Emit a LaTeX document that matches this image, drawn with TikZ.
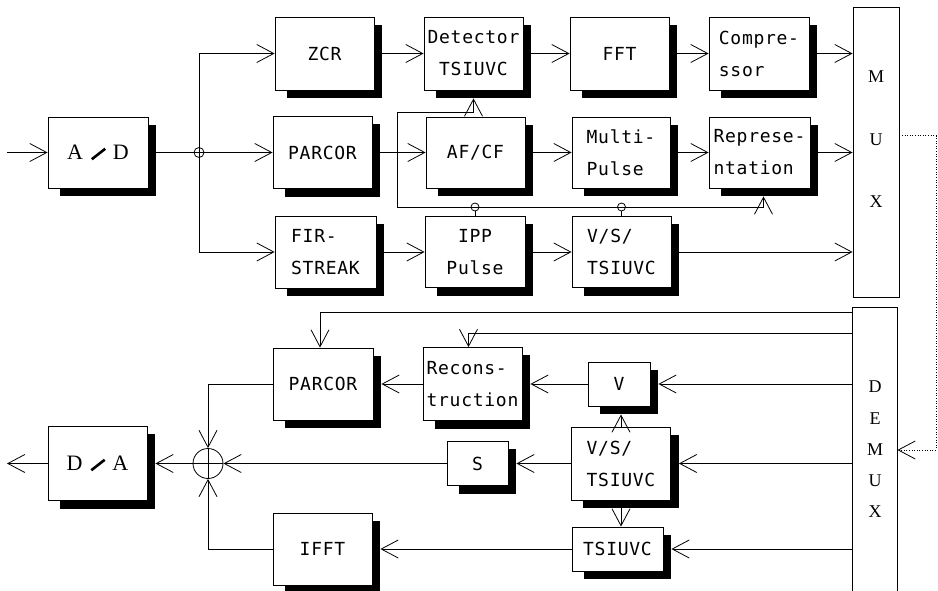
\documentclass[tikz,border=0pt]{standalone}
\usepackage{fontspec}
\usepackage{graphicx}
\setmainfont{Liberation Serif}
\newfontfamily\boxfont[LetterSpace=4]{DejaVu Sans Mono}
\usetikzlibrary{arrows.meta,calc,backgrounds}
\newcommand\bxf{\boxfont\fontsize{18}{32}\selectfont}
\newcommand\srf{\fontsize{22}{26}\selectfont}
\newcommand\slsh{\hspace{8pt}\raisebox{-1pt}{\rotatebox{38}{\rule{17pt}{2.6pt}}}\hspace{7pt}}
\begin{document}
\begin{tikzpicture}[x=1pt,y=-1pt,line width=0.8pt,
  arr/.style={-{Straight Barb[length=17pt,width=18pt]}},
  blk/.style 2 args={draw,fill=white,inner sep=0pt,minimum width=#1pt,minimum height=#2pt,font=\bxf,align=center},
  lblk/.style 2 args={blk={#1}{#2},align=left},
  jc/.style={draw,circle,inner sep=0pt,minimum size=10pt},
  dotl/.style={dash pattern=on 1pt off 1.6pt}]
\useasboundingbox (0,0) rectangle (938,591);
% ---- upper half boxes
\node[blk={100}{71},font=\srf] (AD) at (98,152.5) {A\slsh D};
\node[blk={99}{73}] (ZCR) at (324.5,53.5) {ZCR};
\node[blk={99}{73}] (Det) at (473.5,53.5) {Detector\\TSIUVC};
\node[blk={99}{73}] (FFT) at (619.5,53.5) {FFT};
\node[lblk={100}{73}] (Comp) at (759,53.5) {Compre-\\ssor};
\node[blk={46}{290}] (MUX) at (876,152) {};
\node[font=\fontsize{18}{62.5}\selectfont,align=center,inner sep=0pt] (muxt) at (876,139.5) {M\\U\\X};
\node[blk={99}{72}] (PARt) at (322.5,152.5) {PARCOR};
\node[blk={99}{71}] (AFCF) at (475.5,152.5) {AF/CF};
\node[lblk={98}{71}] (Multi) at (621,152.5) {Multi-\\Pulse};
\node[lblk={101}{71}] (Repr) at (759.5,152.5) {Represe-\\ntation};
\node[lblk={101}{72}] (FIR) at (325.5,252) {FIR-\\STREAK};
\node[blk={100}{71}] (IPP) at (475,252) {IPP\\Pulse};
\node[lblk={99}{71}] (VSa) at (621.5,252) {V/S/\\TSIUVC};
% ---- lower half boxes
\node[blk={100}{72}] (PARb) at (323,384) {PARCOR};
\node[lblk={99}{73}] (Rec) at (472.5,384) {Recons-\\truction};
\node[blk={62}{44}] (V) at (619,384) {V};
\node[blk={61}{44}] (S) at (477.5,463.5) {S};
\node[lblk={99}{73}] (VSb) at (621,463.5) {V/S/\\TSIUVC};
\node[blk={91}{44}] (TS) at (617.5,549) {TSIUVC};
\node[blk={99}{72}] (IFFT) at (322.5,549) {IFFT};
\node[blk={99}{74},font=\srf] (DA) at (97.5,463.5) {D\slsh A};
\node[draw,circle,minimum size=30pt,inner sep=0pt,
  path picture={\draw (path picture bounding box.north) -- (path picture bounding box.south)
  (path picture bounding box.west) -- (path picture bounding box.east);}] (Sum) at (208,463.5) {};
\node[minimum width=44pt,minimum height=283pt,inner sep=0pt,font=\fontsize{18}{31.3}\selectfont,align=center] (DEMUX) at (875,449.5) {D\\E\\M\\U\\X};
\draw (DEMUX.south west) -- (DEMUX.north west) -- (DEMUX.north east) -- (DEMUX.south east);
% ---- shadows
\begin{scope}[on background layer]
\foreach \n in {AD,ZCR,Det,FFT,Comp,PARt,AFCF,Multi,Repr,FIR,IPP,VSa,PARb,Rec,V,S,VSb,TS,IFFT,DA}
  \fill ($(\n.north west)+(12,8)$) rectangle ($(\n.south east)+(8,8)$);
\end{scope}
% ---- upper connectors
\coordinate (in) at (7,152.5);
\draw[arr] (in) -- (AD.west);
\coordinate (s1) at (199,53.5);
\coordinate (s3) at (199,252);
\node[jc] (j0) at (s1 |- AD.east) {};
\draw[arr,shorten <=8pt] (AD.east) -- (PARt.west);
\draw[arr] (s1) -- (ZCR.west);
\draw[arr] (s3) -- (FIR.west);
\draw (s1) -- (s3);
\draw[arr,shorten <=8pt] (ZCR.east) -- (Det.west);
\draw[arr,shorten <=8pt] (Det.east) -- (FFT.west);
\draw[arr,shorten <=8pt] (FFT.east) -- (Comp.west);
\draw[arr,shorten <=8pt] (Comp.east) -- (Comp.east -| MUX.west);
\draw[arr,shorten <=8pt] (PARt.east) -- (AFCF.west);
\draw[arr,shorten <=8pt] (AFCF.east) -- (Multi.west);
\draw[arr,shorten <=8pt] (Multi.east) -- (Repr.west);
\draw[arr,shorten <=8pt] (Repr.east) -- (Repr.east -| MUX.west);
\draw[arr,shorten <=8pt] (FIR.east) -- (IPP.west);
\draw[arr,shorten <=8pt] (IPP.east) -- (VSa.west);
\draw[arr,shorten <=8pt] (VSa.east) -- (VSa.east -| MUX.west);
% feedback
\coordinate (f1) at (397,112);
\coordinate (f2) at (397,207);
\draw[arr,shorten >=8pt] (f2) -- (f1) -| (Det.south);
\draw[arr,shorten >=8pt] (f2) -| ($(Repr.south)+(4,0)$);
\node[jc,minimum size=8pt] (j1) at (IPP.north |- f2) {};
\node[jc,minimum size=8pt] (j2) at (VSa.north |- f2) {};
\draw (j1) -- (IPP.north);
\draw (j2) -- (VSa.north);
% dotted MUX -> DEMUX
\coordinate (dm) at ($(MUX.north east)+(0,129)$);
\coordinate (dc) at (936,450);
\draw[arr,dotl] (dm) -| (dc) -- (dc -| DEMUX.east);
% ---- lower connectors
\coordinate (d1) at ($(DEMUX.north west)+(0,5)$);
\coordinate (d2) at ($(DEMUX.north west)+(0,26)$);
\draw[arr] (d1) -| ($(PARb.north)+(-3,0)$);
\draw[arr] (d2) -| ($(Rec.north)+(-4,0)$);
\draw[arr,shorten >=8pt] (DEMUX.west |- V.east) -- (V.east);
\draw[arr,shorten >=8pt] (DEMUX.west |- VSb.east) -- (VSb.east);
\draw[arr,shorten >=8pt] (DEMUX.west |- TS.east) -- (TS.east);
\draw[arr,shorten >=8pt] (V.west) -- (Rec.east);
\draw[arr,shorten >=8pt] (Rec.west) -- (PARb.east);
\draw[arr,shorten >=8pt] (VSb.west) -- (S.east);
\draw[arr] (S.west) -- (Sum.east);
\draw[arr,shorten >=8pt] (Sum.west) -- (DA.east);
\coordinate (out) at (7,463.5);
\draw[arr] (DA.west) -- (out);
\draw[arr] (PARb.west) -| (Sum.north);
\draw[arr] (IFFT.west) -| (Sum.south);
\draw[arr,shorten >=8pt] (VSb.north) -- (VSb.north |- V.south);
\draw[arr,shorten <=8pt] (VSb.south) -- (VSb.south |- TS.north);
\draw[arr,shorten >=8pt] (TS.west) -- (IFFT.east);
\end{tikzpicture}
\end{document}
